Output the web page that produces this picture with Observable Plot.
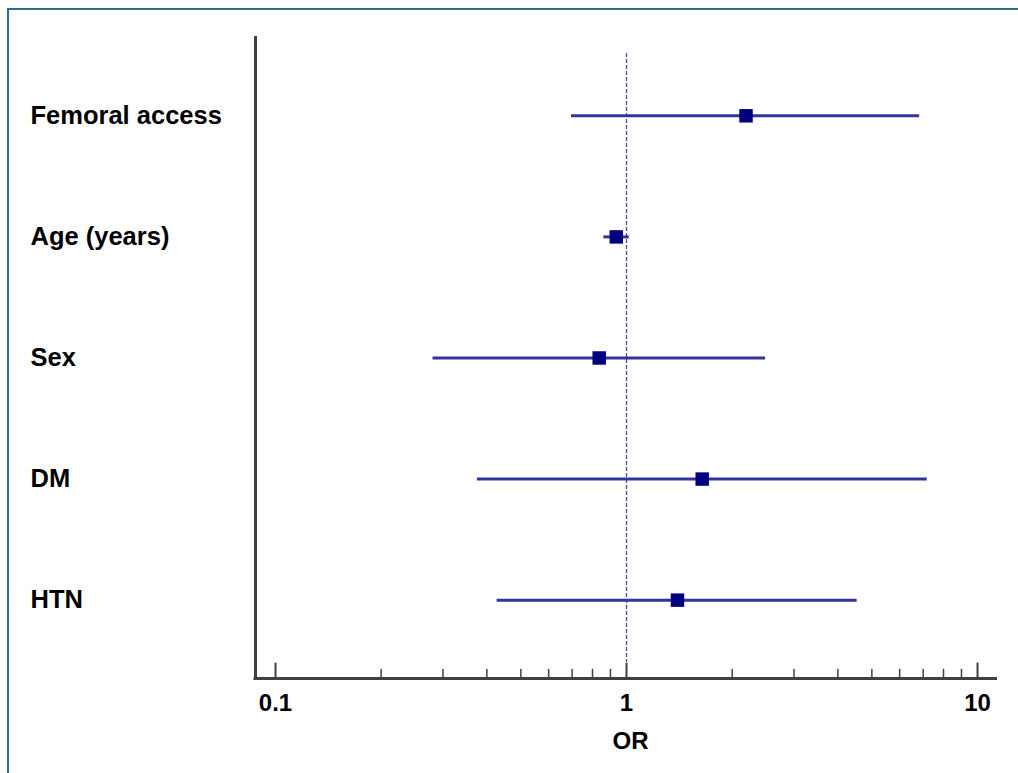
<!DOCTYPE html>
<html>
<head>
<meta charset="utf-8">
<script src="https://cdn.jsdelivr.net/npm/d3@7"></script>
<script src="https://cdn.jsdelivr.net/npm/@observablehq/plot@0.6"></script>
<style>
  html, body { margin: 0; padding: 0; background: #fff; overflow: hidden; }
  #wrap { position: relative; width: 1018px; height: 773px; }
  #border { position: absolute; left: 7px; top: 8px; width: 2000px; height: 2000px;
            border-top: 2px solid #2b6e8e; border-left: 2px solid #2b6e8e; pointer-events: none; }
  #chart { position: absolute; left: 0; top: 0; }
</style>
</head>
<body>
<div id="wrap"><div id="chart"></div><div id="border"></div></div>
<script>
const labels = ["Femoral access", "Age (years)", "Sex", "DM", "HTN"];
const oddsRatio = [2.19, 0.935, 0.836, 1.643, 1.397];
const ciLow = [0.697, 0.862, 0.281, 0.376, 0.428];
const ciHigh = [6.84, 1.018, 2.49, 7.19, 4.54];
const majorTicks = [0.1, 1, 10];
const minorTicks = [0.2,0.3,0.4,0.5,0.6,0.7,0.8,0.9,2,3,4,5,6,7,8,9];
const tickLabels = ["0.1", "1", "10"];
const xLimits = [0.0877, 11.4];
const yLimits = [-0.655, 4.647];

const rows = labels.map((label, i) => ({i, label, or: oddsRatio[i], lo: ciLow[i], hi: ciHigh[i]}));

const tickShape = {draw(context, l) { context.moveTo(0, 0); context.lineTo(0, -l); }};
const font = "'Liberation Sans', Arial, Helvetica, sans-serif";

const plot = Plot.plot({
  width: 1018,
  height: 773,
  marginLeft: 255,
  marginRight: 21,
  marginTop: 36,
  marginBottom: 95,
  style: {fontFamily: font, background: "transparent"},
  x: {type: "log", domain: xLimits, axis: null},
  y: {type: "linear", domain: yLimits, reverse: true, axis: null},
  marks: [
    Plot.ruleX([1], {stroke: "#4d4dab", strokeWidth: 1.3, strokeDasharray: "4,2", insetTop: 17, insetBottom: 16}),
    Plot.ruleY(rows, {y: "i", x1: "lo", x2: "hi", stroke: "#333399", strokeWidth: 3}),
    Plot.dot(rows, {x: "or", y: "i", symbol: "square", r: 7.6, fill: "#000080", stroke: "none"}),
    Plot.ruleX([xLimits[0]], {stroke: "#404040", strokeWidth: 3}),
    Plot.ruleY([yLimits[1]], {stroke: "#404040", strokeWidth: 3, insetLeft: -1.5}),
    Plot.vector(majorTicks, {x: d => d, frameAnchor: "bottom", length: 15, anchor: "start", shape: tickShape, stroke: "#404040", strokeWidth: 2}),
    Plot.vector(minorTicks, {x: d => d, frameAnchor: "bottom", length: 9, anchor: "start", shape: tickShape, stroke: "#404040", strokeWidth: 1.5}),
    Plot.text(majorTicks, {x: d => d, text: d => tickLabels[majorTicks.indexOf(d)], frameAnchor: "bottom", lineAnchor: "top", dy: 15,
      fontSize: 24, fontWeight: "bold", fill: "#000"}),
    Plot.text(rows, {y: "i", text: "label", frameAnchor: "left", textAnchor: "start", dx: -225,
      fontSize: 25.5, fontWeight: "bold", fill: "#000"}),
    Plot.text(["OR"], {frameAnchor: "bottom", lineAnchor: "top", dy: 53, dx: 4, fontSize: 24, fontWeight: "bold", fill: "#000"})
  ]
});
document.getElementById("chart").appendChild(plot);
</script>
</body>
</html>
